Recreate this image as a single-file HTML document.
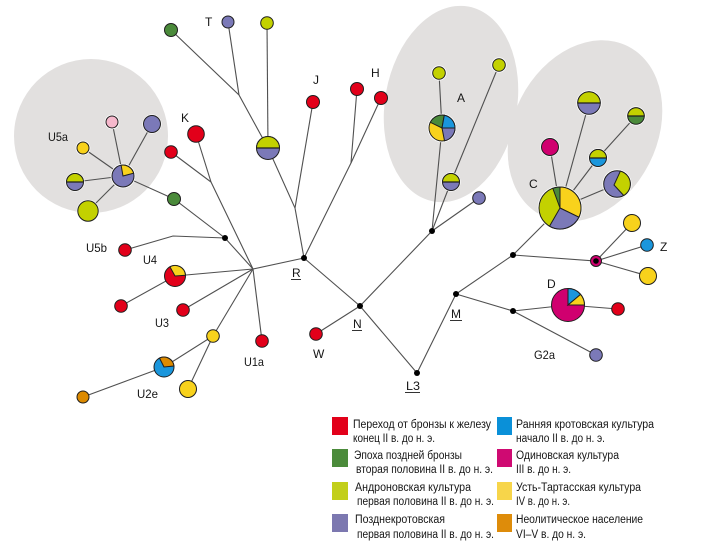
<!DOCTYPE html>
<html><head><meta charset="utf-8"><style>
html,body{margin:0;padding:0;background:#fff;}
svg{display:block;}
text{font-family:"Liberation Sans","DejaVu Sans",sans-serif;fill:#151515;}
</style></head><body>
<svg width="703" height="554" viewBox="0 0 703 554" xmlns="http://www.w3.org/2000/svg">
<!-- gray groups -->
<circle cx="91" cy="136" r="77" fill="#e2e0df"/>
<ellipse cx="451" cy="104" rx="66" ry="99" transform="rotate(10 451 104)" fill="#e2e0df"/>
<ellipse cx="585" cy="131" rx="72" ry="95" transform="rotate(27 585 131)" fill="#e2e0df"/>

<!-- edges -->
<g stroke="#505050" stroke-width="1.1" fill="none">
<polyline points="171,30 239,95 268,148 295,208 304,258"/>
<line x1="228" y1="22" x2="239" y2="95"/>
<line x1="267" y1="23" x2="268" y2="148"/>
<line x1="313" y1="102" x2="295" y2="208"/>
<polyline points="357,89 351,163 304,258"/>
<line x1="381" y1="98" x2="351" y2="163"/>
<line x1="123" y1="176" x2="112" y2="122"/>
<line x1="123" y1="176" x2="152" y2="124"/>
<line x1="123" y1="176" x2="83" y2="148"/>
<line x1="123" y1="176" x2="75" y2="182"/>
<line x1="123" y1="176" x2="88" y2="211"/>
<polyline points="123,176 174,199 225,238 253,269"/>
<polyline points="171,152 211,182 253,269"/>
<line x1="196" y1="134" x2="211" y2="182"/>
<polyline points="125,250 173,236 225,238"/>
<line x1="253" y1="269" x2="304" y2="258"/>
<polyline points="121,306 175,276 253,269"/>
<line x1="183" y1="310" x2="253" y2="269"/>
<polyline points="83,397 164,367 213,336 253,269"/>
<line x1="188" y1="389" x2="213" y2="336"/>
<line x1="262" y1="341" x2="253" y2="269"/>
<polyline points="304,258 360,306 417,373 456,294 513,255 560,208"/>
<line x1="316" y1="334" x2="360" y2="306"/>
<polyline points="360,306 432,231 442,128 439,73"/>
<polyline points="432,231 451,182 499,65"/>
<line x1="432" y1="231" x2="479" y2="198"/>
<polyline points="513,255 596,261 632,223"/>
<line x1="596" y1="261" x2="647" y2="245"/>
<line x1="596" y1="261" x2="648" y2="276"/>
<polyline points="456,294 513,311 568,305 618,309"/>
<line x1="513" y1="311" x2="596" y2="355"/>
<line x1="560" y1="208" x2="550" y2="147"/>
<line x1="560" y1="208" x2="589" y2="103"/>
<polyline points="560,208 598,158 636,116"/>
<line x1="560" y1="208" x2="617" y2="184"/>
</g>

<!-- white halos -->
<g fill="#fff">
<circle cx="123" cy="176" r="12.3"/><circle cx="112" cy="122" r="7.3"/><circle cx="152" cy="124" r="9.6"/>
<circle cx="83" cy="148" r="7.3"/><circle cx="75" cy="182" r="9.6"/><circle cx="88" cy="211" r="11.3"/>
<circle cx="442" cy="128" r="14.3"/><circle cx="439" cy="73" r="7.6"/><circle cx="499" cy="65" r="7.6"/>
<circle cx="451" cy="182" r="9.6"/><circle cx="560" cy="208" r="22.3"/><circle cx="550" cy="147" r="9.6"/>
<circle cx="589" cy="103" r="12.6"/><circle cx="636" cy="116" r="9.6"/><circle cx="598" cy="158" r="9.6"/>
<circle cx="617" cy="184" r="14.6"/>
</g>

<!-- nodes -->
<g stroke="#1e1e1e" stroke-width="1">
<!-- top -->
<circle cx="171" cy="30" r="6.5" fill="#4a8a3a"/>
<circle cx="228" cy="22" r="6" fill="#7b79b8"/>
<circle cx="267" cy="23" r="6.3" fill="#c3d100"/>
<circle cx="268" cy="148" r="11.5" fill="#7b79b8"/>
<path d="M256.5,148 A11.5,11.5 0 0 1 279.5,148 Z" fill="#c3d100"/>
<circle cx="313" cy="102" r="6.5" fill="#e2001a"/>
<circle cx="357" cy="89" r="6.5" fill="#e2001a"/>
<circle cx="381" cy="98" r="6.5" fill="#e2001a"/>
<!-- U5a -->
<circle cx="123" cy="176" r="11" fill="#7b79b8"/>
<path d="M123,176 L121.1,165.2 A11,11 0 0 1 133.6,173.2 Z" fill="#f8d21c"/>
<circle cx="112" cy="122" r="6" fill="#f6b8cc"/>
<circle cx="152" cy="124" r="8.5" fill="#7b79b8"/>
<circle cx="83" cy="148" r="6" fill="#f8d21c"/>
<circle cx="75" cy="182" r="8.5" fill="#7b79b8"/>
<path d="M66.5,182 A8.5,8.5 0 0 1 83.5,182 Z" fill="#c3d100"/>
<circle cx="88" cy="211" r="10.2" fill="#c3d100"/>
<circle cx="174" cy="199" r="6.5" fill="#4a8a3a"/>
<circle cx="171" cy="152" r="6.3" fill="#e2001a"/>
<circle cx="196" cy="134" r="8.3" fill="#e2001a"/>
<circle cx="125" cy="250" r="6.3" fill="#e2001a"/>
<!-- U4 etc -->
<circle cx="175" cy="276" r="10.5" fill="#e2001a"/>
<path d="M175,276 L169.9,266.8 A10.5,10.5 0 0 1 185.5,275.3 Z" fill="#f8d21c"/>
<circle cx="121" cy="306" r="6.3" fill="#e2001a"/>
<circle cx="183" cy="310" r="6.3" fill="#e2001a"/>
<circle cx="213" cy="336" r="6.3" fill="#f8d21c"/>
<circle cx="164" cy="367" r="10" fill="#1a96dc"/>
<path d="M164,367 L159.5,358.1 A10,10 0 0 1 173.9,366 Z" fill="#dc8a00"/>
<circle cx="188" cy="389" r="8.5" fill="#f8d21c"/>
<circle cx="83" cy="397" r="6" fill="#dc8a00"/>
<circle cx="262" cy="341" r="6.3" fill="#e2001a"/>
<circle cx="316" cy="334" r="6.3" fill="#e2001a"/>
<!-- A -->
<circle cx="439" cy="73" r="6.3" fill="#c3d100"/>
<circle cx="499" cy="65" r="6.3" fill="#c3d100"/>
<circle cx="442" cy="128" r="13" fill="#f8d21c"/>
<path d="M442,128 L430.3,122.3 A13,13 0 0 1 444.3,115.2 Z" fill="#4a8a3a"/>
<path d="M442,128 L444.3,115.2 A13,13 0 0 1 455,128 Z" fill="#1a96dc"/>
<path d="M442,128 L455,128 A13,13 0 0 1 444.5,140.8 Z" fill="#7b79b8"/>
<circle cx="451" cy="182" r="8.5" fill="#7b79b8"/>
<path d="M442.5,182 A8.5,8.5 0 0 1 459.5,182 Z" fill="#c3d100"/>
<circle cx="479" cy="198" r="6.3" fill="#7b79b8"/>
<!-- C -->
<circle cx="560" cy="208" r="21" fill="#c3d100"/>
<path d="M560,208 L552.8,188.3 A21,21 0 0 1 560,187 Z" fill="#4a8a3a"/>
<path d="M560,208 L560,187 A21,21 0 0 1 578.9,217.2 Z" fill="#f8d21c"/>
<path d="M560,208 L578.9,217.2 A21,21 0 0 1 549.5,226.2 Z" fill="#7b79b8"/>
<circle cx="550" cy="147" r="8.5" fill="#d0006f"/>
<circle cx="589" cy="103" r="11.3" fill="#7b79b8"/>
<path d="M577.7,103 A11.3,11.3 0 0 1 600.3,103 Z" fill="#c3d100"/>
<circle cx="636" cy="116" r="8.3" fill="#4a8a3a"/>
<path d="M627.7,116 A8.3,8.3 0 0 1 644.3,116 Z" fill="#c3d100"/>
<circle cx="598" cy="158" r="8.5" fill="#1a96dc"/>
<path d="M589.5,158 A8.5,8.5 0 0 1 606.5,158 Z" fill="#c3d100"/>
<circle cx="617" cy="184" r="13.3" fill="#7b79b8"/>
<path d="M620.4,171.1 A13.3,13.3 0 0 1 623.7,195.5 L614,185 Z" fill="#c3d100"/>
<!-- Z -->
<circle cx="596" cy="261" r="5.5" fill="#d0006f"/>
<circle cx="632" cy="223" r="8.5" fill="#f8d21c"/>
<circle cx="647" cy="245" r="6.3" fill="#1a96dc"/>
<circle cx="648" cy="276" r="8.5" fill="#f8d21c"/>
<!-- D -->
<circle cx="568" cy="305" r="16.5" fill="#d0006f"/>
<path d="M568,305 L568,288.5 A16.5,16.5 0 0 1 580.6,294.4 Z" fill="#1a96dc"/>
<path d="M568,305 L580.6,294.4 A16.5,16.5 0 0 1 584.5,305 Z" fill="#f8d21c"/>
<circle cx="618" cy="309" r="6.3" fill="#e2001a"/>
<circle cx="596" cy="355" r="6.3" fill="#7b79b8"/>
</g>
<!-- half dividers -->
<g stroke="#1e1e1e" stroke-width="1.3">
<line x1="256.5" y1="148" x2="279.5" y2="148"/>
<line x1="66.5" y1="182" x2="83.5" y2="182"/>
<line x1="442.5" y1="182" x2="459.5" y2="182"/>
<line x1="577.7" y1="103" x2="600.3" y2="103"/>
<line x1="627.7" y1="116" x2="644.3" y2="116"/>
<line x1="589.5" y1="158" x2="606.5" y2="158"/>
</g>

<!-- junction dots -->
<g fill="#000">
<circle cx="225" cy="238" r="3"/><circle cx="304" cy="258" r="3"/><circle cx="360" cy="306" r="3"/>
<circle cx="417" cy="373" r="3"/><circle cx="432" cy="231" r="3"/><circle cx="456" cy="294" r="3"/>
<circle cx="513" cy="255" r="3"/><circle cx="513" cy="311" r="3"/><circle cx="596" cy="261" r="2.8"/>
</g>

<!-- labels -->
<g font-size="12">
<text x="205" y="26">T</text>
<text x="313" y="84">J</text>
<text x="371" y="77">H</text>
<text x="181" y="122">K</text>
<text x="48" y="141" textLength="20" lengthAdjust="spacingAndGlyphs">U5a</text>
<text x="457" y="102">A</text>
<text x="529" y="188">C</text>
<text x="86" y="252" textLength="21" lengthAdjust="spacingAndGlyphs">U5b</text>
<text x="143" y="264" textLength="14" lengthAdjust="spacingAndGlyphs">U4</text>
<text x="292" y="277">R</text>
<text x="155" y="327" textLength="14" lengthAdjust="spacingAndGlyphs">U3</text>
<text x="244" y="366" textLength="20" lengthAdjust="spacingAndGlyphs">U1a</text>
<text x="313" y="358">W</text>
<text x="137" y="398" textLength="21" lengthAdjust="spacingAndGlyphs">U2e</text>
<text x="353" y="328">N</text>
<text x="451" y="318">M</text>
<text x="406" y="390" textLength="14" lengthAdjust="spacingAndGlyphs">L3</text>
<text x="547" y="288">D</text>
<text x="660" y="251">Z</text>
<text x="534" y="359" textLength="21" lengthAdjust="spacingAndGlyphs">G2a</text>
</g>
<g stroke="#333" stroke-width="1">
<line x1="291" y1="279.5" x2="301" y2="279.5"/>
<line x1="352" y1="330.5" x2="362" y2="330.5"/>
<line x1="450" y1="320.5" x2="462" y2="320.5"/>
<line x1="405" y1="392.5" x2="420" y2="392.5"/>
</g>

<!-- legend -->
<rect x="332" y="417" width="16" height="18" fill="#e2001a"/>
<rect x="332" y="449" width="16" height="18" fill="#4b8b3b"/>
<rect x="332" y="482" width="16" height="18" fill="#c2cf1a"/>
<rect x="332" y="514" width="16" height="18" fill="#7c78b0"/>
<rect x="497" y="417" width="15" height="18" fill="#0a90d8"/>
<rect x="497" y="449" width="15" height="18" fill="#cf0a72"/>
<rect x="497" y="482" width="15" height="18" fill="#f7d54a"/>
<rect x="497" y="514" width="15" height="18" fill="#de8c0a"/>
<g font-size="11.5" lengthAdjust="spacingAndGlyphs">
<text x="353" y="428" textLength="138" lengthAdjust="spacingAndGlyphs">Переход от бронзы к железу</text>
<text x="353" y="442" textLength="82" lengthAdjust="spacingAndGlyphs">конец II в. до н. э.</text>
<text x="354" y="459" textLength="108" lengthAdjust="spacingAndGlyphs">Эпоха поздней бронзы</text>
<text x="356" y="473" textLength="137" lengthAdjust="spacingAndGlyphs">вторая половина II в. до н. э.</text>
<text x="355" y="491" textLength="116" lengthAdjust="spacingAndGlyphs">Андроновская культура</text>
<text x="357" y="505" textLength="137" lengthAdjust="spacingAndGlyphs">первая половина II в. до н. э.</text>
<text x="355" y="523" textLength="90" lengthAdjust="spacingAndGlyphs">Позднекротовская</text>
<text x="357" y="538" textLength="137" lengthAdjust="spacingAndGlyphs">первая половина II в. до н. э.</text>
<text x="516" y="428" textLength="138" lengthAdjust="spacingAndGlyphs">Ранняя кротовская культура</text>
<text x="516" y="442" textLength="89" lengthAdjust="spacingAndGlyphs">начало II в. до н. э.</text>
<text x="516" y="459" textLength="103" lengthAdjust="spacingAndGlyphs">Одиновская культура</text>
<text x="516" y="473" textLength="55" lengthAdjust="spacingAndGlyphs">III в. до н. э.</text>
<text x="516" y="491" textLength="125" lengthAdjust="spacingAndGlyphs">Усть-Тартасская культура</text>
<text x="516" y="505" textLength="54" lengthAdjust="spacingAndGlyphs">IV в. до н. э.</text>
<text x="516" y="523" textLength="127" lengthAdjust="spacingAndGlyphs">Неолитическое население</text>
<text x="516" y="538" textLength="70" lengthAdjust="spacingAndGlyphs">VI–V в. до н. э.</text>
</g>
</svg>
</body></html>
